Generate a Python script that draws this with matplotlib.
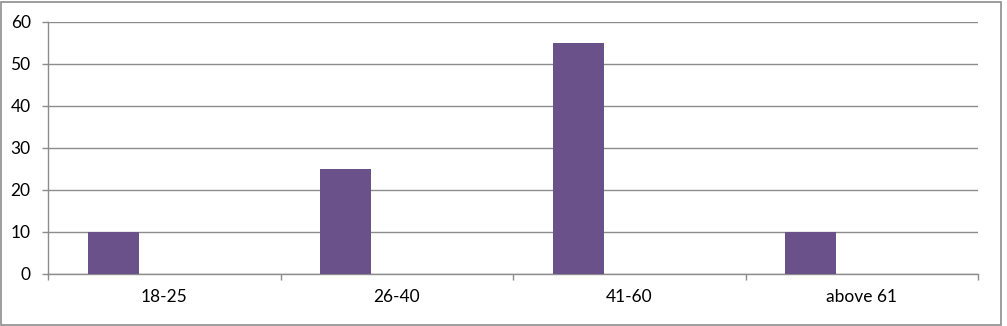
import matplotlib
matplotlib.use("Agg")
import matplotlib.pyplot as plt
from matplotlib.patches import Rectangle
import numpy as np

categories = ["18-25", "26-40", "41-60", "above 61"]
values = [10, 25, 55, 10]
y_ticks = [0, 10, 20, 30, 40, 50, 60]

plt.rcParams['font.family'] = ['Lato', 'DejaVu Sans']

W, H = 1007, 326
fig = plt.figure(figsize=(W/100, H/100), dpi=100)
ax = fig.add_axes([48/W, 1-274/H, (978-48)/W, (274-22)/H])

x = np.arange(len(categories))
bar_w = 0.22
ax.bar(x - bar_w, values, width=bar_w, color='#6A5189', zorder=3)

ax.set_xlim(-0.5, len(categories) - 0.5)
ax.set_ylim(0, 60)
ax.set_yticks(y_ticks)
ax.set_yticklabels([str(v) for v in y_ticks], fontsize=12.5, color='#000000')
ax.grid(axis='y', color='#8c8c8c', linewidth=1, zorder=0)

ax.set_xticks(x)
ax.set_xticklabels(categories, fontsize=12.5)
ax.set_xticks(np.arange(len(categories) + 1) - 0.5, minor=True)
ax.tick_params(axis='x', which='major', length=0, pad=11)
ax.tick_params(axis='x', which='minor', length=4.5, color='#8c8c8c', width=1)
ax.tick_params(axis='y', length=4.5, color='#8c8c8c', width=1, pad=8)

for s in ['top', 'right']:
    ax.spines[s].set_visible(False)
for s in ['left', 'bottom']:
    ax.spines[s].set_color('#8c8c8c')
    ax.spines[s].set_linewidth(1)

fig.patches.append(Rectangle((1/W, 1/H), (W-7)/W, (H-3)/H, transform=fig.transFigure,
                             fill=False, edgecolor='#8c8c8c', linewidth=1.2))

fig.savefig("out.png", dpi=100)
